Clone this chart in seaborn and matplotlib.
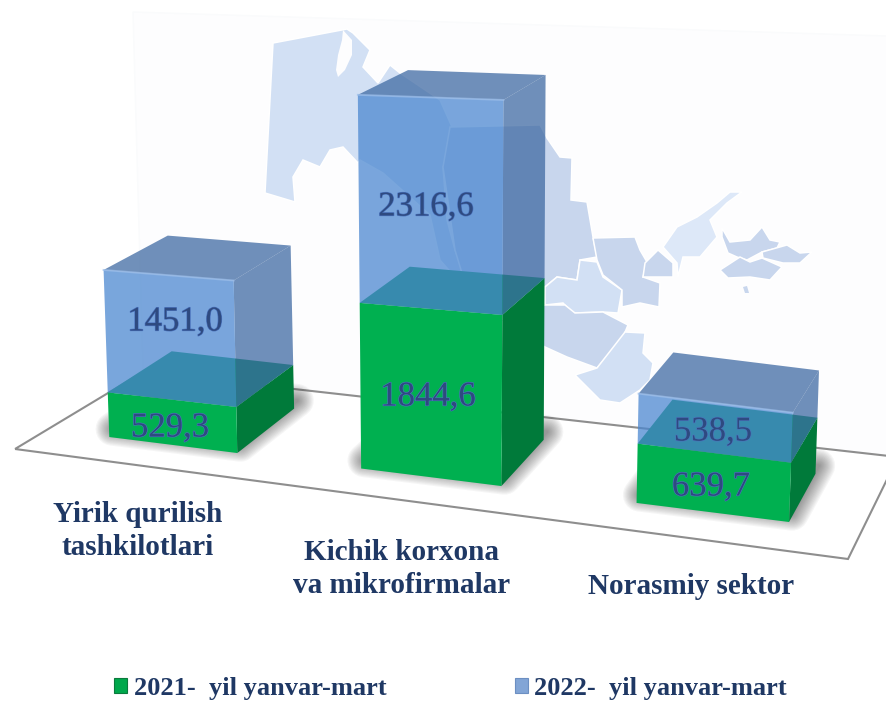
import numpy as np
import pandas as pd
import matplotlib
import matplotlib.pyplot as plt
import matplotlib.patheffects as pe
import seaborn as sns
from matplotlib.patches import Polygon, Patch
from matplotlib.transforms import Transform

matplotlib.use('Agg')

# chart values
sectors = ['Yirik qurilish\ntashkilotlari', 'Kichik korxona\nva mikrofirmalar', 'Norasmiy sektor']
values_2021 = [529.3, 1844.6, 639.7]
values_2022 = [1451.0, 2316.6, 538.5]
label_2021 = '2021-  yil yanvar-mart'
label_2022 = '2022-  yil yanvar-mart'

# background map of the regions, in pixels of the picture (decoration only)
DARK = '#C8D6ED'
LIGHT = '#D2E0F4'
PALE = '#DDE8F8'
MAP_SHAPES = [
    (LIGHT, [(273, 43), (347, 29), (353, 33), (370, 50), (363, 67), (378, 83), (390, 65), (400, 73), (440, 100),
             (452, 127), (457, 137), (443, 167), (447, 220), (455, 250), (475, 300), (440, 260), (430, 215),
             (383, 173), (360, 160), (358, 163), (343, 147), (330, 150), (320, 167), (303, 160), (293, 177),
             (295, 202), (265, 193)]),
    (DARK, [(450, 127), (540, 125), (547, 138), (560, 157), (572, 158), (571, 200), (587, 202), (593, 237),
            (597, 257), (580, 260), (577, 280), (557, 277), (545, 287), (470, 300), (455, 250), (443, 167)]),
    (LIGHT, [(545, 287), (557, 277), (577, 280), (580, 260), (597, 262), (603, 277), (622, 290), (618, 313),
             (603, 312), (573, 313), (563, 303), (545, 305)]),
    (DARK, [(593, 238), (635, 237), (640, 250), (647, 262), (643, 277), (660, 283), (659, 307), (640, 303),
            (622, 307), (622, 290), (603, 275), (597, 260)]),
    (DARK, [(645, 263), (658, 250), (673, 263), (673, 277), (643, 277)]),
    (PALE, [(663, 247), (677, 227), (697, 217), (717, 203), (730, 192), (742, 192), (727, 203), (710, 220),
            (717, 237), (700, 257), (683, 257), (678, 277), (677, 263)]),
    (DARK, [(722, 228), (730, 242), (750, 240), (762, 227), (770, 240), (780, 242), (777, 248), (762, 252),
            (747, 260), (737, 257), (728, 253), (722, 237)]),
    (DARK, [(720, 270), (740, 257), (750, 262), (762, 258), (782, 267), (770, 280), (750, 277), (728, 278)]),
    (DARK, [(762, 252), (787, 245), (800, 253), (812, 252), (800, 263), (783, 263), (763, 258)]),
    (DARK, [(545, 305), (565, 305), (575, 313), (603, 312), (628, 325), (623, 337), (597, 368), (567, 357),
            (545, 347), (500, 320)]),
    (LIGHT, [(625, 332), (645, 333), (643, 353), (653, 363), (650, 380), (640, 390), (620, 403), (600, 400),
             (575, 375), (597, 368)]),
]
ARAL_SEA = [(343, 30), (352, 40), (352, 55), (345, 70), (338, 77), (336, 70), (338, 55), (342, 40)]
FLOOR = [(15, 449), (143, 372), (898, 457), (848, 559)]

# picture geometry of the 3D look
VANISH = np.array([1270.0, -355.0])
DEPTH = 0.055


class BarPerspective(Transform):
    """Category position and value -> picture pixels, with a tilted floor."""
    input_dims = 2
    output_dims = 2
    is_separable = False
    has_inverse = False

    def transform_non_affine(self, values):
        values = np.asarray(values, dtype=float)
        t, v = values[:, 0], values[:, 1]
        x0 = 172.5 + 246.25 * t + 11.75 * t ** 2
        # bars further left sit further away, so they come out a bit shorter
        scale = 0.082 + 0.0000216 * np.minimum(x0, 499)
        x = x0 + (x0 - 450) * 1e-4 * scale * v
        y = 437 + 0.125 * (x0 - 109) - scale * v
        return np.column_stack([x, y])


def to_back(points):
    points = np.asarray(points, dtype=float)
    return points + DEPTH * (VANISH - points)


def draw_faces(ax, patch, persp, pix_tf, side_color, top_color, alpha, z):
    """Add the side and top faces for one front rectangle."""
    x0, x1 = patch.get_x(), patch.get_x() + patch.get_width()
    low, high = patch.get_y(), patch.get_y() + patch.get_height()
    fl, fr, tr, tl = persp.transform([(x0, low), (x1, low), (x1, high), (x0, high)])
    side = [fr, tr, to_back(tr), to_back(fr)]
    top = [tl, tr, to_back(tr), to_back(tl)]
    ax.add_patch(Polygon(side, closed=True, fc=side_color, ec='none', alpha=alpha, transform=pix_tf, zorder=z))
    ax.add_patch(Polygon(top, closed=True, fc=top_color, ec='none', alpha=alpha, transform=pix_tf, zorder=z))
    return tl, tr


def main():
    df = pd.DataFrame({'sector': sectors, 'y2021': values_2021, 'y2022': values_2022})

    fig = plt.figure(figsize=(8.87, 7.01), dpi=100, facecolor='white')

    # pixel layer for the wall, map and floor
    pix = fig.add_axes([0, 0, 1, 1])
    pix.set_xlim(0, 887)
    pix.set_ylim(701, 0)
    pix.axis('off')

    pix.add_patch(Polygon([(133, 12), (887, 36), (887, 456), (143, 372)], closed=True, fc='#FDFDFE', ec='#FAFBFC', lw=1))
    for color, shape in MAP_SHAPES:
        pix.add_patch(Polygon(shape, closed=True, fc=color, ec='white', lw=1.1))
    pix.add_patch(Polygon(ARAL_SEA, closed=True, fc='#FDFDFE', ec='none'))
    pix.add_patch(Polygon([(743, 287), (747, 286), (749, 293), (745, 293)], closed=True, fc=DARK, ec='none'))
    pix.add_patch(Polygon(FLOOR, closed=True, fc='none', ec='#8E8E8E', lw=1.5))

    # bar layer on top
    ax = fig.add_axes([0, 0, 1, 1])
    ax.patch.set_visible(False)

    sns.barplot(data=df, x='sector', y='y2021', color='#00B050', saturation=1, width=0.52, ax=ax)
    green_bars = list(ax.patches)
    sns.barplot(data=df, x='sector', y='y2022', color='#4B87D0', saturation=1, width=0.52, ax=ax,
                bottom=df['y2021'].values)
    blue_bars = list(ax.patches)[len(green_bars):]
    ax.axis('off')

    persp = BarPerspective()
    pix_tf = pix.transData
    bar_tf = persp + pix_tf

    for g_bar, b_bar in zip(green_bars, blue_bars):
        # soft shadow on the floor
        x0, x1 = g_bar.get_x(), g_bar.get_x() + g_bar.get_width()
        fl, fr = persp.transform([(x0, 0), (x1, 0)])
        base = np.array([fl, fr, to_back(fr), to_back(fl)]) + np.array([3, -8])
        for lw in np.linspace(24, 2, 14):
            ax.add_patch(Polygon(base, closed=True, fc='none', ec='#2A2A2A', lw=lw, alpha=0.045,
                                 joinstyle='round', transform=pix_tf, zorder=2))

        draw_faces(ax, g_bar, persp, pix_tf, '#007A3A', '#00964F', 1, 3)
        g_bar.set_transform(bar_tf)
        g_bar.set_zorder(4)

        tl, tr = draw_faces(ax, b_bar, persp, pix_tf, '#3E69A2', '#3E69A2', 0.74, 5)
        b_bar.set_transform(bar_tf)
        b_bar.set_alpha(0.74)
        b_bar.set_zorder(6)
        # lighter bevel along the front top edge
        ax.plot([tl[0], tr[0]], [tl[1], tr[1]], color='#9CBEEA', lw=1.4, alpha=0.7, transform=pix_tf, zorder=7)

    # value labels
    pos_2021 = [(170, 428), (428, 397), (711, 487)]
    pos_2022 = [(175, 322), (426, 207), (713, 432)]
    for vals, positions in ((values_2021, pos_2021), (values_2022, pos_2022)):
        for val, (px, py) in zip(vals, positions):
            ax.text(px, py, f'{val:.1f}'.replace('.', ','), transform=pix_tf, ha='center', va='center',
                    family='Liberation Serif', fontsize=25, color='#2E4A80', zorder=8,
                    path_effects=[pe.withStroke(linewidth=0.9, foreground='#4A72BC')])

    # category labels
    cat_pos = [(138, 531), (402, 569), (691, 587)]
    for name, (px, py) in zip(sectors, cat_pos):
        pix.text(px, py, name, ha='center', va='center', family='Liberation Serif', weight='bold',
                 fontsize=21, color='#1F3864', linespacing=1.28)

    handles = [Patch(fc='#00A84C', ec='#0B7A3C', lw=0.8), Patch(fc='#82A5D6', ec='#6C8FC2', lw=0.8)]
    leg = ax.legend(handles, [label_2021, label_2022], ncol=2, frameon=False, loc='center',
                    bbox_to_anchor=(0.508, 0.0185), bbox_transform=fig.transFigure,
                    handlelength=0.5, handleheight=0.5, handletextpad=0.25, columnspacing=4.85,
                    prop={'family': 'Liberation Serif', 'weight': 'bold', 'size': 19})
    for txt in leg.get_texts():
        txt.set_color('#1F3864')

    fig.savefig('out.png', dpi=100)
    plt.close(fig)


if __name__ == "__main__":
    main()
